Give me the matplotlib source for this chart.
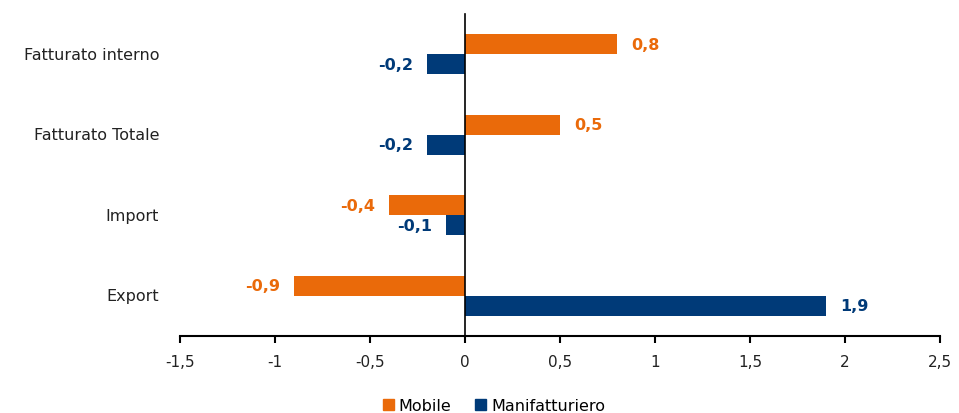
import numpy as np
import matplotlib.pyplot as plt
from matplotlib.patches import Patch

categories = ['Fatturato interno', 'Fatturato Totale', 'Import', 'Export']
mobile = [0.8, 0.5, -0.4, -0.9]
manifatturiero = [-0.2, -0.2, -0.1, 1.9]
xticks = [-1.5, -1, -0.5, 0, 0.5, 1, 1.5, 2, 2.5]

c_mob = '#EA6A0A'
c_man = '#003A78'

plt.rcParams['font.family'] = ['DejaVu Sans']

fig = plt.figure(figsize=(9.59, 4.14), dpi=100)
ax = fig.add_axes([0.1877, 0.186, 0.7925, 0.778])

y = np.arange(len(categories))
h = 0.25
ax.barh(y - h / 2, mobile, height=h, color=c_mob)
ax.barh(y + h / 2, manifatturiero, height=h, color=c_man)


def fmt(v):
    s = f'{v:g}'.replace('.', ',')
    return s


for yi, v in zip(y - h / 2, mobile):
    ax.annotate(fmt(v), (v, yi), xytext=(10 if v > 0 else -10, 0),
                textcoords='offset points', ha='left' if v > 0 else 'right',
                va='center', color=c_mob, fontsize=11.5, fontweight='bold')
for yi, v in zip(y + h / 2, manifatturiero):
    ax.annotate(fmt(v), (v, yi), xytext=(10 if v > 0 else -10, 0),
                textcoords='offset points', ha='left' if v > 0 else 'right',
                va='center', color=c_man, fontsize=11.5, fontweight='bold')

ax.set_xlim(-1.5, 2.5)
ax.set_ylim(3.5, -0.5)
ax.set_xticks(xticks)
ax.set_xticklabels([fmt(t) for t in xticks], fontsize=11, color='#222222')
ax.tick_params(axis='x', length=5, width=1.5, pad=8)

ax.spines['top'].set_visible(False)
ax.spines['right'].set_visible(False)
ax.spines['left'].set_position(('data', 0))
ax.spines['left'].set_linewidth(1.2)
ax.spines['bottom'].set_linewidth(1.5)
ax.set_yticks([])

for yi, cat in zip(y, categories):
    ax.text(-1.61, yi, cat, ha='right', va='center', fontsize=11.5, color='#222222')

handles = [Patch(color=c_mob, label='Mobile'), Patch(color=c_man, label='Manifatturiero')]
fig.legend(handles=handles, loc='lower center', ncol=2, frameon=False,
           fontsize=11.5, bbox_to_anchor=(0.515, -0.035), handlelength=0.7,
           handleheight=0.7, handletextpad=0.3, columnspacing=1.5)

plt.savefig('out.png', dpi=100)
